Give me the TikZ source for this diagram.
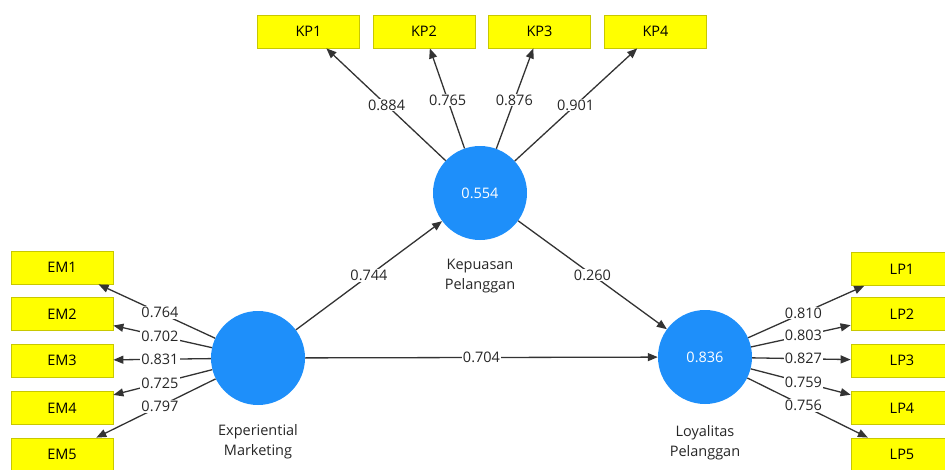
\documentclass[tikz,border=0pt]{standalone}
\usepackage{fontspec}
\setmainfont{Open Sans}
\usetikzlibrary{arrows.meta,calc}
\definecolor{boxyellow}{HTML}{FFFF00}
\definecolor{boxedge}{HTML}{C8C800}
\definecolor{lvblue}{HTML}{1E8FFA}
\definecolor{linegray}{HTML}{333333}
\tikzset{
  ind/.style={rectangle, fill=boxyellow, draw=boxedge, line width=0.8pt, minimum width=102pt, minimum height=33pt, inner sep=0pt, font=\fontsize{14.5}{16}\selectfont},
  lv/.style={circle, fill=lvblue, draw=none, minimum size=94pt, inner sep=0pt, text=white, font=\fontsize{14.5}{16}\selectfont},
  lvcaption/.style={align=center, font=\fontsize{14.5}{20}\selectfont, text=black!85},
  val/.style={fill=white, inner sep=1pt, font=\fontsize{14.5}{16}\selectfont, text=black!85},
  conn/.style={draw=linegray, line width=1.3pt, -{Triangle[length=10pt,width=8pt]}}
}
\begin{document}
\begin{tikzpicture}[x=1pt,y=-1pt]
\useasboundingbox (0,0) rectangle (945,469);
\clip (0,0) rectangle (945,469);
% latent variables
\node[lv] (em) at (258,358) {};
\node[lv] (kp) at (480,193) {0.554};
\node[lv] (lp) at (705,357) {0.836};
% captions
\node[lvcaption] (emcap) at (258,442) {Experiential\\Marketing};
\node[lvcaption] (kpcap) at (480,276) {Kepuasan\\Pelanggan};
\node[lvcaption] (lpcap) at (705,443) {Loyalitas\\Pelanggan};
% indicators
\node[ind] (kp1) at (308.5,31.5) {KP1};
\node[ind] (kp2) at (424,31.5) {KP2};
\node[ind] (kp3) at (539.5,31.5) {KP3};
\node[ind] (kp4) at (655.5,31.5) {KP4};
\node[ind] (em1) at (62,267.5) {EM1};
\node[ind] (em2) at (62,314) {EM2};
\node[ind] (em3) at (62,360.5) {EM3};
\node[ind] (em4) at (62,408) {EM4};
\node[ind] (em5) at (62,454.5) {EM5};
\node[ind] (lp1) at (902,269) {LP1};
\node[ind] (lp2) at (902,314) {LP2};
\node[ind] (lp3) at (902,360.5) {LP3};
\node[ind] (lp4) at (902,408) {LP4};
\node[ind] (lp5) at (902,454.5) {LP5};
% connectors
\foreach \a/\b in {kp/kp1,kp/kp2,kp/kp3,kp/kp4,em/em1,em/em2,em/em3,em/em4,em/em5,lp/lp1,lp/lp2,lp/lp3,lp/lp4,lp/lp5,em/kp,kp/lp,em/lp}
  \draw[conn] (\a) -- (\b);
% values
\node[val] (vkp1) at ($(kp)!0.545!(kp1)$) {0.884};
\node[val] (vkp2) at ($(kp)!0.576!(kp2)$) {0.765};
\node[val] (vkp3) at ($(kp)!0.576!(kp3)$) {0.876};
\node[val] (vkp4) at ($(kp)!0.545!(kp4)$) {0.901};
\node[val] (vem1) at ($(em)!0.5!(em1)$) {0.764};
\node[val] (vem2) at ($(em)!0.5!(em2)$) {0.702};
\node[val] (vem3) at ($(em)!0.5!(em3)$) {0.831};
\node[val] (vem4) at ($(em)!0.5!(em4)$) {0.725};
\node[val] (vem5) at ($(em)!0.5!(em5)$) {0.797};
\node[val] (vlp1) at ($(lp)!0.5!(lp1)$) {0.810};
\node[val] (vlp2) at ($(lp)!0.5!(lp2)$) {0.803};
\node[val] (vlp3) at ($(lp)!0.5!(lp3)$) {0.827};
\node[val] (vlp4) at ($(lp)!0.5!(lp4)$) {0.759};
\node[val] (vlp5) at ($(lp)!0.5!(lp5)$) {0.756};
\node[val] (vemkp) at ($(em)!0.5!(kp)$) {0.744};
\node[val] (vkplp) at ($(kp)!0.5!(lp)$) {0.260};
\node[val] (vemlp) at ($(em)!0.5!(lp)$) {0.704};
\end{tikzpicture}
\end{document}
